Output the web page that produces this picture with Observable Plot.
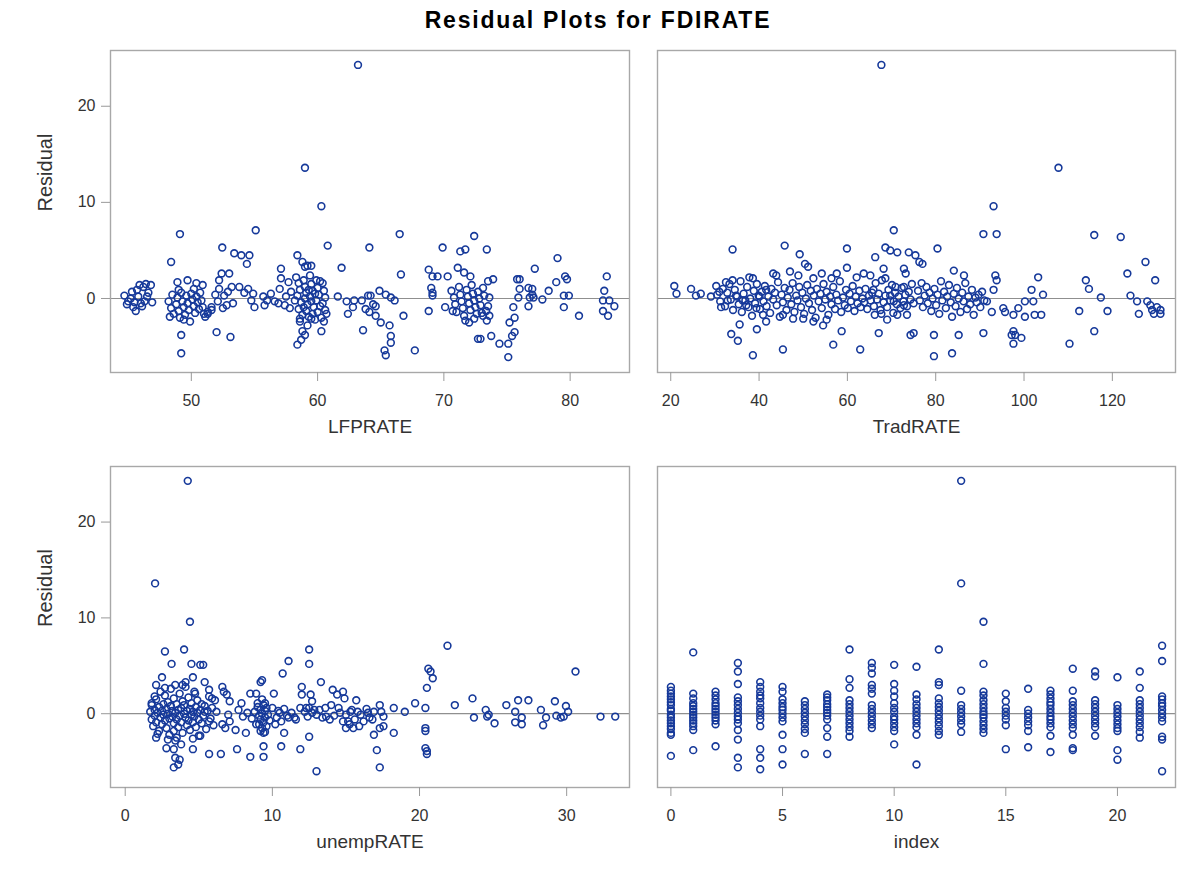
<!DOCTYPE html>
<html><head><meta charset="utf-8">
<script src="https://cdn.jsdelivr.net/npm/d3@7"></script>
<script src="https://cdn.jsdelivr.net/npm/@observablehq/plot@0.6"></script>
<style>
body{margin:0;background:#fff;width:1196px;height:878px;position:relative;overflow:hidden;font-family:"Liberation Sans",Arial,sans-serif;}
#title{position:absolute;top:6px;left:0;width:1196px;text-align:center;font-weight:bold;font-size:23px;line-height:28px;letter-spacing:1.8px;color:#000;z-index:2;}
.panel{position:absolute;z-index:1;}
</style></head><body>
<div id="title">Residual Plots for FDIRATE</div>
<div id="p1" class="panel" style="left:0;top:30px"></div>
<div id="p2" class="panel" style="left:640px;top:30px"></div>
<div id="p3" class="panel" style="left:0;top:448px"></div>
<div id="p4" class="panel" style="left:640px;top:448px"></div>
<script>
// ---- axis settings ----
const residualDomain = [-7.7, 25.8];
const residualTicks = [0, 10, 20];
const lfprateDomain = [43.6, 84.7];
const lfprateTicks = [50, 60, 70, 80];
const tradrateDomain = [17.0, 134.3];
const tradrateTicks = [20, 40, 60, 80, 100, 120];
const unemprateDomain = [-1.0, 34.27];
const unemprateTicks = [0, 10, 20, 30];
const indexDomain = [-0.6, 22.6];
const indexTicks = [0, 5, 10, 15, 20];

// ---- LFPRATE vs residual ----
const lfprateResid = [
[44.7,0.3],[45.0,-0.3],[45.3,0.7],[45.5,-0.4],[45.8,0.2],[45.9,1.4],[46.2,1.2],[46.4,1.5],[46.6,0.6],[46.0,-0.5],[45.6,-1.3],[46.3,-0.3],[46.9,-0.4],[45.2,0.0],[44.9,-0.6],[46.1,-0.8],[45.7,0.9],[46.5,0.2],[45.4,-0.9],[46.8,1.4],
[48.2,-0.3],[48.4,-1.0],[48.5,0.4],[48.6,-1.6],[48.8,-0.6],[48.9,0.1],[49.0,-1.3],[49.1,-2.0],[49.2,0.6],[49.3,-0.3],[49.4,-0.9],[49.5,-1.7],[49.6,0.3],[49.7,-0.5],[49.8,-1.2],[49.9,-2.4],[50.0,0.5],[50.1,-0.1],[50.2,-0.8],[50.3,-1.5],[50.4,0.2],[50.5,-0.4],[50.6,-1.1],[50.7,0.6],[50.8,-0.2],[50.9,-0.9],[51.0,-1.6],[48.3,-1.9],[49.0,0.9],[50.2,1.0],
[48.4,3.8],[49.1,6.7],[49.2,-3.8],[49.2,-5.7],[48.9,1.7],[49.7,1.9],[50.4,1.6],[50.9,1.4],[49.4,-2.2],[51.1,-1.9],[51.3,-1.4],[51.6,-0.9],
[52.45,5.3],[52.0,-3.5],[53.1,-4.0],[52.4,2.6],[53.0,2.6],[52.2,1.9],[52.2,1.0],[52.6,0.3],[52.9,0.7],[53.2,1.2],[53.3,-0.5],[52.5,-1.0],[52.8,-0.7],[51.3,-1.6],[51.6,-1.2],[52.1,-0.3],[51.9,0.4],
[53.4,4.7],[53.96,4.5],[54.6,4.5],[54.4,3.6],[53.8,1.2],[54.5,1.0],[54.9,0.5],[54.75,-0.2],[55.0,-0.9],[55.7,0.2],[55.8,-0.7],[56.3,0.5],[56.6,-0.3],[57.1,3.1],[57.1,2.1],[57.0,1.0],[57.4,-0.7],[57.7,1.7],[57.9,0.7],[55.1,7.1],[54.2,0.6],[56.0,-0.2],[57.5,0.2],[56.9,-0.5],[57.8,-1.0],
[58.4,4.5],[58.8,3.8],[59.2,3.4],[59.5,3.4],[59.0,3.3],[58.8,-3.4],[59.0,-3.8],[58.7,-4.3],[58.4,-4.8],[60.3,-3.4],[59.2,-2.8],[58.6,-2.4],[59.5,-2.1],[59.0,13.6],[60.3,9.6],[60.8,5.5],[63.2,24.3],
[58.3,2.2],[58.5,1.6],[58.6,0.9],[58.4,0.3],[58.7,-0.4],[58.5,-1.1],[58.8,-1.7],[58.6,-2.1],[58.9,1.9],[59.0,1.2],[59.1,0.6],[59.0,0.0],[59.2,-0.6],[59.1,-1.3],[59.3,-1.9],[59.4,2.4],[59.5,1.5],[59.6,0.8],[59.4,0.2],[59.5,-0.3],[59.7,-0.9],[59.6,-1.6],[59.8,-2.2],[59.9,1.9],[60.0,1.1],[60.1,0.4],[59.9,-0.2],[60.2,-0.8],[60.0,-1.4],[60.3,-2.0],[60.4,1.6],[60.5,0.8],[60.6,0.1],[60.4,-0.5],[60.6,-1.2],[60.5,-2.4],[58.2,-0.2],[58.9,-0.9],[59.3,0.9],[60.2,1.8],[59.8,0.5],[60.7,-1.6],
[61.6,0.2],[61.9,3.2],[62.3,-0.3],[62.4,-1.6],[62.9,-0.2],[62.8,-0.9],[63.5,-0.2],[63.6,-3.3],[64.0,0.3],[64.1,-1.4],[64.1,5.3],
[66.5,6.7],[66.6,2.5],[66.8,-1.8],[64.2,0.3],[64.4,-0.6],[63.8,-1.1],[64.9,0.8],[65.4,0.4],[65.8,0.1],[66.1,-0.2],[65.0,-2.5],[65.7,-2.8],[65.8,-3.9],[65.8,-4.6],[65.3,-5.4],[65.4,-5.9],[67.7,-5.4],[64.6,-1.8],[64.6,-0.8],
[68.8,3.0],[69.1,2.3],[69.5,2.3],[69.9,5.3],[71.3,4.9],[71.7,5.1],[70.3,2.3],[69.0,1.1],[69.1,0.6],[69.1,0.3],[68.8,-1.3],[70.1,-0.9],[70.7,-1.3],[71.1,3.2],[72.4,6.5],[73.4,5.1],[71.6,2.7],[72.1,2.3],
[70.6,0.8],[70.8,0.1],[70.9,-0.6],[71.0,-1.4],[71.2,1.2],[71.3,0.4],[71.4,-0.3],[71.5,-1.0],[71.6,-1.8],[71.8,0.9],[71.9,0.2],[72.0,-0.5],[72.1,-1.2],[72.2,1.4],[72.3,0.5],[72.4,-0.2],[72.5,-0.9],[72.6,-1.6],[72.7,0.7],[72.8,0.0],[72.9,-0.7],[73.0,-1.5],[73.1,1.1],[73.2,0.3],[72.4,-2.1],[71.7,-2.3],
[72.0,-2.5],[72.9,-4.2],[72.7,-4.2],[73.75,-3.9],[73.1,-1.8],[73.4,-2.3],[73.5,1.8],[73.9,2.0],[73.6,0.1],[73.5,-0.8],[73.35,-1.3],[73.6,-1.8],
[74.4,-4.7],[75.1,-4.7],[75.1,-6.1],[75.6,-3.5],[75.4,-3.9],[75.2,-2.5],[75.6,-2.0],[75.5,-0.9],[75.8,2.0],[76.0,2.0],[76.0,1.0],[75.9,0.1],
[76.7,1.1],[77.0,1.0],[77.0,0.4],[76.8,0.1],[77.1,0.1],[76.7,-0.8],[77.2,3.1],[77.8,-0.1],[78.3,0.8],[78.9,1.7],[79.0,4.2],[79.6,2.3],[79.75,2.0],[79.5,-0.9],[79.9,0.3],[79.5,0.3],[80.7,-1.8],
[82.9,2.3],[82.7,0.8],[82.6,-0.2],[82.6,-1.3],[83.0,-1.8],[83.1,-0.2],[83.5,-0.8]
];

// ---- TradRATE vs residual ----
const tradrateResid = [
[20.8,1.3],[21.3,0.5],[24.6,1.0],[25.7,0.3],[26.8,0.5],[29.1,0.2],[30.3,1.3],[31.4,-0.9],[34.0,5.1],[33.7,-3.7],[35.2,-4.4],[35.6,-2.7],[38.6,-5.9],[39.5,-3.2],[37.8,2.2],[38.6,2.1],[32.5,1.7],[34.0,1.9],[31.0,0.7],[32.9,-0.2],[34.8,0.3],[36.3,-0.2],[37.1,-0.7],[39.4,-1.0],[40.9,-1.7],[41.6,-2.4],[40.1,0.2],[41.6,0.9],[43.2,2.6],[43.9,2.4],[45.8,5.5],[47.0,2.8],[49.2,4.6],[50.4,3.6],[51.1,3.3],[45.4,-5.3],[45.4,-1.7],[47.7,-2.1],[50.0,-2.1],[52.3,-2.4],[54.5,-2.8],[55.3,-2.2],[56.8,-4.8],[58.7,-3.4],[59.9,5.2],[59.9,3.2],[57.6,2.6],[56.4,2.1],[54.2,2.6],[52.3,2.1],[48.9,2.4],[62.9,-5.3],[62.1,2.2],[63.7,2.6],[65.2,2.4],[66.3,4.3],[67.1,-3.6],[68.6,5.3],[69.7,5.0],[70.5,7.1],[71.3,4.8],[68.2,3.1],[68.6,2.1],[69.0,-2.2],[71.3,-1.7],[72.8,-0.7],[73.5,-1.7],[74.3,-3.8],[75.0,-3.6],[73.9,4.8],[75.4,4.5],[72.8,3.1],[73.2,2.6],[72.8,1.2],[70.9,1.2],[65.9,0.9],[69.7,0.3],[70.5,-0.3],[67.7,-1.6],[66.2,-1.7],
[30.5,0.4],[31.2,-0.3],[31.8,1.0],[32.3,-0.8],[32.8,0.6],[33.3,1.5],[33.6,-0.1],[34.1,-1.2],[34.5,0.9],[35.0,0.2],[35.4,-0.6],[35.8,1.8],[36.1,-1.4],[36.5,0.5],[36.9,-0.2],[37.3,1.2],[37.6,-0.9],[38.0,0.0],[38.4,-1.8],[38.8,0.8],[39.1,-0.5],[39.5,1.5],[39.9,0.3],[40.2,-1.1],[40.6,0.7],[41.0,-0.3],[41.3,1.3],[41.7,-0.8],[42.1,0.2],[42.5,-1.5],[42.8,1.0],[43.2,-0.1],[43.6,0.6],[44.0,-0.7],[44.3,1.7],[44.7,-1.9],[45.1,0.4],[45.4,-0.4],[45.8,1.1],[46.2,-1.2],[46.5,0.1],[46.9,0.9],[47.3,-0.6],[47.6,1.6],[48.0,-1.4],[48.4,0.3],[48.7,-0.2],[49.1,1.2],[49.5,-0.9],[49.8,0.6],[50.2,-1.6],[50.6,0.0],[50.9,1.4],[51.3,-0.5],[51.7,0.8],[52.0,-1.2],[52.4,0.3],[52.8,-2.0],[53.1,1.0],[53.5,-0.3],[53.9,0.5],[54.2,-1.0],[54.6,1.5],[55.0,-0.1],[55.3,0.7],[55.7,-1.7],[56.1,0.2],[56.4,-0.6],[56.8,1.2],[57.2,-1.1],[57.5,0.4],[57.9,-0.2],[58.3,1.8],[58.6,-1.4],[59.0,0.1],[59.4,-0.7],[59.7,0.9],[60.1,-1.0],[60.5,0.5],[60.8,-0.3],[61.2,1.3],[61.6,-1.3],[61.9,0.2],[62.3,-0.5],[62.7,0.8],[63.0,-0.9],[63.4,0.0],[63.8,-0.4],[64.1,1.0],[64.5,-1.1],[64.9,0.3],[65.3,-0.2],[65.6,0.6],[66.0,-0.8],[66.4,1.6],[66.7,-0.1],[67.1,0.5],[67.5,-1.2],[67.8,1.9],[68.2,-0.4],[68.6,0.3],[69.0,-0.9],[69.3,0.9],[69.7,-0.2],[70.1,1.4],[70.4,-1.5],[70.8,0.6],[71.2,-0.6],[71.6,0.2],[72.0,-1.0],[72.3,1.1],[72.7,-0.3],[73.1,0.4],[73.5,-0.8],[73.9,0.7],[74.3,-0.1],[74.6,1.5],[75.0,-0.5],
[76.3,3.8],[77.0,3.6],[80.4,5.2],[90.8,6.7],[93.8,6.7],[79.6,-3.8],[79.6,-6.0],[83.7,-5.7],[85.2,-3.8],[90.8,-3.6],[84.1,2.9],[86.4,2.4],[93.5,2.4],[93.8,1.9],[93.1,0.9],[90.5,0.7],[91.6,-0.3],[92.7,-1.4],[95.3,-1.0],[95.7,-1.4],[97.6,-1.7],[98.7,-1.0],[100.2,-0.3],[102.1,-0.3],[101.7,0.9],[104.3,0.4],[103.2,2.2],[100.2,-1.9],[102.4,-1.7],[103.9,-1.7],[97.6,-3.4],[98.0,-3.8],[99.4,-4.1],[97.6,-4.7],[97.2,-3.8],[110.3,-4.7],[112.5,-1.3],[114.0,1.9],[114.7,1.0],[115.9,6.6],[115.9,-3.4],[117.4,0.1],[118.9,-1.3],[123.4,2.6],[124.1,0.3],[125.6,-0.3],[126.0,-1.6],[127.5,3.8],[127.9,-0.3],[128.6,-0.7],[129.0,-1.2],[129.7,1.9],[130.1,-0.9],[130.9,-1.2],[130.9,-1.6],[129.4,-1.6],
[76.0,0.8],[76.4,-0.2],[76.8,1.6],[77.1,-0.9],[77.5,0.3],[77.9,1.2],[78.2,-0.5],[78.6,0.6],[79.0,-1.3],[79.3,0.0],[79.7,1.0],[80.1,-0.7],[80.4,0.4],[80.8,-1.6],[81.2,1.8],[81.5,-0.2],[81.9,0.7],[82.3,-1.0],[82.6,0.2],[83.0,1.4],[83.4,-0.4],[83.7,-1.9],[84.1,0.5],[84.5,-0.8],[84.8,1.1],[85.2,0.0],[85.6,-1.4],[86.0,0.6],[86.3,-0.3],[86.7,1.6],[87.1,-1.1],[87.4,0.2],[87.8,-0.6],[88.2,0.9],[88.6,-1.7],[89.0,0.1],[89.3,-0.4],[89.7,0.4],[90.1,-0.9],[91.0,-0.2],
[67.7,24.3],[107.8,13.6],[93.1,9.6],[121.9,6.4]
];

// ---- unempRATE vs residual ----
const unemprateResid = [
[2.7,6.5],[4.0,6.7],[3.15,5.2],[4.5,5.2],[5.1,5.1],[5.3,5.1],[2.5,3.8],[4.6,3.8],[5.4,3.3],[2.1,3.0],[1.8,1.1],[2.0,1.8],[2.7,2.7],[3.4,3.0],[4.1,3.3],[4.75,2.1],[5.7,2.5],[5.9,1.6],[6.6,2.8],[6.7,2.3],[6.9,2.0],[6.1,1.4],[7.1,1.3],[2.1,-2.5],[2.8,-3.6],[3.3,-3.7],[3.4,-4.6],[3.3,-5.6],[3.7,-4.8],[3.6,-5.3],[3.8,-3.2],[3.3,-1.8],[5.1,-2.3],[4.6,-3.7],[5.7,-4.2],[6.5,-4.2],[7.6,-3.7],[8.5,-4.5],[9.4,-4.5],[9.4,-3.4],[8.2,-2.0],[7.5,-1.7],[7.1,-0.8],[7.0,-0.1],[6.6,-1.1],[6.8,-1.5],[5.7,-0.8],[5.4,0.2],[6.2,0.2],
[7.9,1.1],[8.5,2.1],[8.9,2.1],[9.2,3.3],[9.3,3.5],[10.1,2.1],[9.0,1.1],[9.5,1.1],[10.0,0.6],[10.5,0.1],[10.7,4.2],[11.1,5.5],[10.2,-1.1],[10.8,-2.0],[10.6,-3.4],[9.4,-2.0],[9.2,-1.8],[8.9,-1.1],[11.1,-0.4],[11.5,-0.4],[11.9,0.6],[12.0,2.8],[12.0,2.0],[12.5,6.7],[12.5,5.2],[12.6,2.0],[12.3,0.6],[12.5,0.6],[12.7,1.3],[12.85,0.4],[11.9,-3.7],[12.5,-2.4],[13.0,-6.0],[13.2,0.4],[13.3,3.3],[13.4,-0.4],[13.65,-0.3],[14.0,0.9],[14.1,2.5],[14.4,2.0],[14.6,0.1],[14.8,2.3],[14.9,1.6],[15.0,-0.1],[15.15,-0.8],[15.25,-1.1],[15.5,-1.5],[15.7,1.4],[15.8,0.2],[16.2,-0.8],[15.6,-0.6],[15.4,0.4],[16.6,-0.4],[13.9,-0.6],
[1.7,0.2],[1.8,-0.6],[1.8,0.9],[1.9,-1.3],[2.0,0.4],[2.0,-0.2],[2.1,1.5],[2.1,-0.9],[2.2,0.1],[2.3,-1.8],[2.3,0.7],[2.4,-0.4],[2.4,2.3],[2.5,0.3],[2.5,-1.1],[2.6,1.0],[2.6,-0.1],[2.7,-0.7],[2.7,1.9],[2.8,0.5],[2.8,-1.5],[2.9,0.0],[2.9,1.2],[3.0,-0.5],[3.0,-2.2],[3.1,0.8],[3.1,2.6],[3.2,-0.3],[3.2,0.3],[3.3,-1.0],[3.3,1.6],[3.4,0.1],[3.4,-2.8],[3.5,-0.6],[3.5,1.0],[3.6,0.4],[3.6,-1.4],[3.7,2.1],[3.7,-0.2],[3.8,0.6],[3.8,-0.9],[3.9,1.3],[3.9,-2.0],[4.0,0.0],[4.0,0.9],[4.1,-0.4],[4.1,2.8],[4.2,0.3],[4.2,-1.2],[4.3,1.7],[4.3,-0.7],[4.4,0.5],[4.4,-1.7],[4.5,-0.1],[4.5,1.1],[4.6,0.2],[4.6,-0.9],[4.7,2.3],[4.7,-0.3],[4.8,0.7],[4.8,-1.4],[4.9,0.1],[4.9,1.4],[5.0,-0.6],[5.0,-2.3],[5.1,0.4],[5.2,1.0],[5.2,-1.0],[5.3,-0.2],[5.4,0.8],[5.5,-1.6],[5.6,0.3],[5.7,1.8],[5.8,-0.5],[5.9,0.6],[6.0,-1.2],[3.5,-2.5],[2.2,-2.1],[4.6,-2.6],[3.9,3.0],[2.9,-2.7],
[9.0,0.7],[9.1,-0.2],[9.1,-1.1],[9.2,0.4],[9.2,-0.6],[9.3,1.5],[9.3,-1.5],[9.3,0.0],[9.4,-0.9],[9.4,0.9],[9.5,-0.4],[9.5,-1.9],[9.5,0.3],[9.6,-1.3],[9.6,0.6],[9.7,-0.1],[9.8,-0.7],[8.8,0.2],[8.6,-0.5],[8.3,0.1],[8.0,-0.3],[7.7,0.4],[10.3,-0.4],[10.4,0.3],[10.6,-0.8],[10.8,0.5],[11.0,-0.2],[11.3,0.1],[11.6,-0.6],[12.2,0.2],[12.4,-0.3],[12.7,0.1],[13.0,-0.1],[13.6,0.6],[14.2,-0.2],[14.5,0.6],[15.3,0.2],[16.0,-0.1],[16.4,0.5],[15.9,-1.3],[15.0,-1.5],[14.8,-0.8],
[21.9,7.1],[20.6,4.7],[20.75,4.4],[20.9,3.7],[20.5,2.7],[20.4,0.6],[20.4,-1.5],[20.4,-1.8],[20.4,-3.6],[20.5,-3.9],[20.5,-4.2],[23.6,1.6],[23.7,-0.4],[22.4,0.9],[19.7,1.1],[19.0,0.2],[18.25,0.6],[18.25,-2.0],[17.3,0.9],[16.9,0.2],[16.8,-0.6],[17.55,-0.3],[17.3,-1.5],[17.55,-1.3],[16.9,-2.2],[17.1,-3.8],[17.3,-5.6],[24.5,0.4],[24.6,-0.3],[25.1,-1.0],[24.7,-0.1],[25.9,0.9],[26.7,1.4],[27.4,1.4],[26.5,0.2],[26.5,-0.9],[26.95,-0.4],[26.95,-1.1],[28.25,0.4],[28.4,-1.2],[28.6,-0.4],[29.2,1.3],[29.3,-0.2],[29.6,-0.4],[29.8,-0.3],[29.95,0.8],[30.1,0.2],[30.6,4.4],[32.3,-0.3],[33.3,-0.3],[16.5,0.1],[17.4,0.2],
[4.25,24.3],[2.03,13.6],[4.4,9.6]
];

// ---- index vs residual (one list of residuals per index value 0..22) ----
const indexResid = [
[2.8,2.4,2.1,1.8,1.5,1.2,0.9,0.5,0.3,-0.1,-0.4,-0.7,-1.0,-1.3,-1.6,-2.0,-2.2,-4.4],
[6.4,2.1,1.6,1.1,0.8,0.5,0.2,-0.1,-0.4,-0.7,-1.0,-1.3,-1.7,-3.8],
[2.3,1.9,1.5,1.1,0.8,0.5,0.2,-0.1,-0.4,-0.7,-1.1,-3.4],
[5.3,4.4,3.1,1.7,1.3,0.9,0.5,0.1,-0.3,-0.6,-1.0,-1.7,-2.7,-4.6,-5.6],
[3.3,2.8,2.3,1.9,1.6,1.1,0.6,0.2,-0.2,-0.6,-1.3,-3.7,-4.6,-5.8],
[2.8,2.3,1.5,1.1,0.7,0.4,0.0,-0.4,-0.8,-2.2,-3.7,-5.3],
[1.3,0.9,0.5,0.1,-0.3,-0.7,-1.1,-1.6,-2.0,-4.2],
[2.0,1.7,1.4,1.0,0.7,0.4,0.1,-0.2,-0.6,-1.5,-2.4,-4.2],
[6.7,3.6,2.7,1.4,1.0,0.6,0.2,-0.2,-0.6,-1.0,-1.4,-1.8,-2.4],
[5.3,4.8,4.2,3.0,2.6,2.1,0.9,0.5,0.1,-0.3,-0.7,-1.1,-1.5],
[5.1,3.1,2.4,1.8,1.1,0.6,0.2,-0.3,-0.6,-1.0,-1.4,-1.8,-3.2],
[4.9,2.0,1.5,1.0,0.6,0.2,-0.2,-0.6,-1.0,-1.4,-2.2,-5.3],
[6.7,3.3,3.0,1.6,1.1,0.7,0.3,-0.1,-0.5,-0.9,-1.3,-1.8,-2.2],
[24.3,13.6,2.4,0.9,0.5,0.1,-0.3,-0.7,-1.1,-1.9],
[9.6,5.2,2.3,1.9,1.4,1.0,0.6,0.2,-0.1,-0.4,-0.8,-1.2,-1.6,-2.0],
[2.1,1.3,0.6,0.2,-0.2,-0.6,-1.2,-3.7],
[2.6,0.4,0.0,-0.4,-0.8,-1.2,-1.8,-3.5],
[2.4,2.0,1.6,1.2,0.9,0.5,0.1,-0.3,-0.6,-1.0,-1.4,-2.3,-4.0],
[4.7,2.4,1.3,0.9,0.5,0.1,-0.3,-0.7,-1.1,-1.5,-2.2,-3.6,-3.8],
[4.4,3.9,1.4,1.0,0.6,0.2,-0.2,-0.6,-1.0,-1.4,-2.3],
[3.8,0.9,0.5,0.1,-0.3,-0.7,-1.1,-1.5,-1.8,-3.8,-4.8],
[4.4,2.7,1.4,1.0,0.6,0.2,-0.2,-0.6,-1.0,-1.4,-1.9,-2.5],
[7.1,5.5,1.8,1.5,1.1,0.8,0.4,0.0,-0.4,-0.8,-2.4,-2.7,-6.0]
];

const markerColor = "#16399a";
const fontFamily = "'Liberation Sans', Arial, sans-serif";

function panel(id, pts, xDomain, xTicks, xLabel, showY, marginTop, height) {
  const marginLeft = showY ? 110 : 17;
  const marginRight = showY ? 11 : 21;
  const width = showY ? 640 : 556;
  const marks = [
    Plot.ruleY([0], {stroke: "#8f8f8f", strokeWidth: 1.2}),
    Plot.dot(pts, {x: d => d[0], y: d => d[1], r: 3.4, stroke: markerColor, strokeWidth: 1.6, fill: "none"}),
    Plot.frame({stroke: "#a8a8a8", strokeWidth: 1.4}),
    Plot.axisX({ticks: xTicks, tickSize: 9, tickPadding: 13, label: null, stroke: "#999", fill: "#333", fontSize: 16}),
    Plot.text([xLabel], {frameAnchor: "bottom", dy: 60, fontSize: 19, fill: "#333", fontFamily})
  ];
  if (showY) {
    marks.push(Plot.axisY({ticks: residualTicks, tickSize: 9, tickPadding: 6, label: null, stroke: "#999", fill: "#333", fontSize: 16}));
    marks.push(Plot.text(["Residual"], {frameAnchor: "left", dx: -65, rotate: -90, fontSize: 20, fill: "#333", fontFamily}));
  }
  const chart = Plot.plot({
    width, height, marginLeft, marginRight, marginTop, marginBottom: 75,
    style: {fontFamily, background: "transparent", overflow: "visible"},
    x: {domain: xDomain, axis: null},
    y: {domain: residualDomain, axis: null},
    marks
  });
  document.getElementById(id).appendChild(chart);
}

const indexPts = indexResid.flatMap((col, i) => col.map(r => [i, r]));

panel("p1", lfprateResid, lfprateDomain, lfprateTicks, "LFPRATE", true, 20, 417);
panel("p2", tradrateResid, tradrateDomain, tradrateTicks, "TradRATE", false, 20, 417);
panel("p3", unemprateResid, unemprateDomain, unemprateTicks, "unempRATE", true, 18, 414);
panel("p4", indexPts, indexDomain, indexTicks, "index", false, 18, 414);
</script>
</body></html>
